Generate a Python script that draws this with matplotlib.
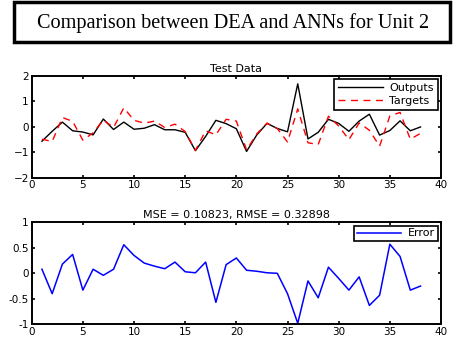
import matplotlib
matplotlib.use("Agg")
import matplotlib.pyplot as plt
from matplotlib.patches import Rectangle

samples = list(range(1, 39))
outputs = [-0.57, -0.18, 0.18, -0.16, -0.21, -0.32, 0.30, -0.11, 0.18, -0.10,
           -0.06, 0.08, -0.12, -0.12, -0.22, -0.94, -0.38, 0.25, 0.12, -0.08,
           -0.97, -0.32, 0.13, -0.07, -0.20, 1.68, -0.48, -0.22, 0.29, 0.13,
           -0.18, 0.22, 0.49, -0.33, -0.15, 0.23, -0.16, -0.01]
targets = [-0.49, -0.58, 0.36, 0.21, -0.53, -0.24, 0.26, -0.03, 0.74, 0.25,
           0.14, 0.22, -0.03, 0.10, -0.19, -0.93, -0.16, -0.32, 0.29, 0.22,
           -0.91, -0.28, 0.14, -0.07, -0.60, 0.70, -0.63, -0.70, 0.41, 0.03,
           -0.51, 0.15, -0.14, -0.76, 0.42, 0.56, -0.49, -0.26]
errors = [0.08, -0.40, 0.18, 0.37, -0.33, 0.08, -0.04, 0.08, 0.56, 0.35,
          0.20, 0.14, 0.09, 0.22, 0.03, 0.01, 0.22, -0.57, 0.17, 0.30,
          0.06, 0.04, 0.01, 0.00, -0.40, -0.98, -0.15, -0.48, 0.12, -0.10,
          -0.33, -0.07, -0.63, -0.43, 0.57, 0.33, -0.33, -0.25]

main_title = "Comparison between DEA and ANNs for Unit 2"
top_title = "Test Data"
bottom_title = "MSE = 0.10823, RMSE = 0.32898"
x_ticks = [0, 5, 10, 15, 20, 25, 30, 35, 40]
top_yticks = [-2, -1, 0, 1, 2]
bottom_yticks = [-1, -0.5, 0, 0.5, 1]
bottom_yticklabels = ["-1", "-0.5", "0", "0.5", "1"]

plt.rcParams['font.family'] = ['DejaVu Sans']
fig = plt.figure(figsize=(4.53, 3.43), dpi=100)

# title box
fig.patches.append(Rectangle((14/453, 1-42/343), (450-14)/453, 40/343,
                             transform=fig.transFigure, fill=False,
                             edgecolor='black', linewidth=2.5))
fig.text(0.515, 1-23/343, main_title, ha='center', va='center',
         fontsize=14.6, family=['Liberation Serif', 'DejaVu Serif'])

def style(ax):
    for s in ax.spines.values():
        s.set_linewidth(1.4)
    ax.tick_params(direction='in', length=2.5, width=1.2, labelsize=7.5,
                   top=True, right=True, pad=2)
    ax.set_xlim(0, 40)
    ax.set_xticks(x_ticks)

ax1 = fig.add_axes([31.7/453, 1-177.7/343, 409.3/453, 102/343])
ax1.plot(samples, outputs, color='black', lw=1.0, label='Outputs')
ax1.plot(samples, targets, color='red', lw=1.0, ls=(0, (5, 4)), label='Targets')
style(ax1)
ax1.set_ylim(-2, 2)
ax1.set_yticks(top_yticks)
ax1.set_title(top_title, fontsize=8, pad=3)
leg1 = ax1.legend(loc='upper right', fontsize=8, handlelength=4.0,
                  fancybox=False, framealpha=1, borderaxespad=0.3,
                  labelspacing=0.25, handletextpad=0.6, borderpad=0.35)
leg1.get_frame().set_edgecolor('black')
leg1.get_frame().set_linewidth(1.2)

ax2 = fig.add_axes([31.7/453, 1-324.3/343, 409.3/453, 102/343])
ax2.plot(samples, errors, color='blue', lw=1.1, label='Error')
style(ax2)
ax2.set_ylim(-1, 1)
ax2.set_yticks(bottom_yticks)
ax2.set_yticklabels(bottom_yticklabels)
ax2.set_title(bottom_title, fontsize=8, pad=3)
leg2 = ax2.legend(loc='upper right', fontsize=8, handlelength=4.0,
                  fancybox=False, framealpha=1, borderaxespad=0.3,
                  handletextpad=0.6, borderpad=0.25)
leg2.get_frame().set_edgecolor('black')
leg2.get_frame().set_linewidth(1.2)

fig.savefig('out.png', dpi=100)
